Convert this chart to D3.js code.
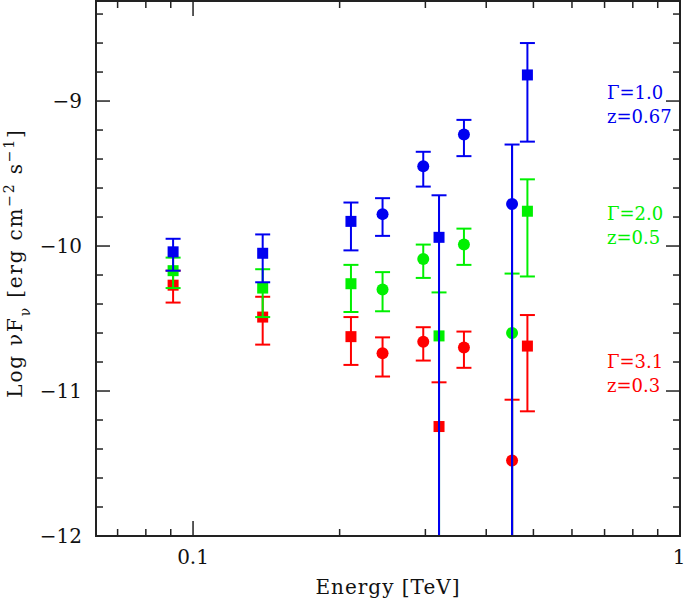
<!DOCTYPE html>
<html>
<head>
<meta charset="utf-8">
<script src="https://cdn.jsdelivr.net/npm/d3@7"></script>
<style>
  body { margin: 0; background: #fff; }
  text { font-family: "DejaVu Serif", serif; fill: #111; }
</style>
</head>
<body>
<script>
// energies of the bins (TeV) and the marker used at each
var energies = [0.091, 0.139, 0.211, 0.245, 0.297, 0.32, 0.36, 0.452, 0.486];
var shapes = ["sq", "sq", "sq", "ci", "ci", "sq", "ci", "ci", "sq"];

// Gamma=3.1, z=0.3
var redVal = [-10.27, -10.49, -10.625, -10.74, -10.66, -11.245, -10.70, -11.48, -10.69];
var redHi  = [-10.17, -10.35, -10.49, -10.63, -10.56, -10.94, -10.59, -11.06, -10.476];
var redLo  = [-10.39, -10.68, -10.82, -10.90, -10.79, -12.5, -10.84, -12.5, -11.14];

// Gamma=2.0, z=0.5
var greenVal = [-10.17, -10.29, -10.26, -10.30, -10.09, -10.62, -9.99, -10.60, -9.76];
var greenHi  = [-10.08, -10.16, -10.13, -10.18, -9.99, -10.32, -9.88, -10.19, -9.54];
var greenLo  = [-10.29, -10.49, -10.455, -10.45, -10.22, -12.5, -10.13, -12.5, -10.21];

// Gamma=1.0, z=0.67
var blueVal = [-10.04, -10.05, -9.83, -9.78, -9.45, -9.94, -9.23, -9.71, -8.82];
var blueHi  = [-9.95, -9.92, -9.70, -9.67, -9.35, -9.65, -9.13, -9.30, -8.60];
var blueLo  = [-10.17, -10.25, -10.03, -9.93, -9.59, -12.5, -9.38, -12.5, -9.28];

var xTicks = [0.1, 1];
var xMinor = [0.07, 0.08, 0.09, 0.2, 0.3, 0.4, 0.5, 0.6, 0.7, 0.8, 0.9];
var yTicks = [-12, -11, -10, -9];

var width = 684, height = 600;
var pL = 96, pR = 680, pT = 1, pB = 536;

var svg = d3.select("body").append("svg")
  .attr("width", width).attr("height", height);

var x = d3.scaleLog().domain([0.0632, 1]).range([pL, pR]);
var y = d3.scaleLinear().domain([-12, -8.31]).range([pB, pT]);

svg.append("clipPath").attr("id", "clip")
  .append("rect").attr("x", pL).attr("y", pT)
  .attr("width", pR - pL).attr("height", pB - pT);

var plot = svg.append("g").attr("clip-path", "url(#clip)");

function drawSeries(vals, his, los, colour) {
  var g = plot.append("g");
  for (var i = 0; i < vals.length; i++) {
    var cx = x(energies[i]);
    g.append("line").attr("x1", cx).attr("x2", cx)
      .attr("y1", y(his[i])).attr("y2", y(los[i]))
      .attr("stroke", colour).attr("stroke-width", 2);
    [his[i], los[i]].forEach(function(v) {
      if (v < -12) return;
      g.append("line").attr("x1", cx - 7.5).attr("x2", cx + 7.5)
        .attr("y1", y(v)).attr("y2", y(v))
        .attr("stroke", colour).attr("stroke-width", 2);
    });
    if (shapes[i] == "sq") {
      g.append("rect").attr("x", cx - 5.5).attr("y", y(vals[i]) - 5.5)
        .attr("width", 11).attr("height", 11).attr("fill", colour);
    } else {
      g.append("circle").attr("cx", cx).attr("cy", y(vals[i]))
        .attr("r", 6).attr("fill", colour);
    }
  }
  // long bars (lower end off the plot) go over their own markers
  for (var j = 0; j < vals.length; j++) {
    if (los[j] < -12) {
      var cx2 = x(energies[j]);
      g.append("line").attr("x1", cx2).attr("x2", cx2)
        .attr("y1", y(his[j])).attr("y2", y(los[j]))
        .attr("stroke", colour).attr("stroke-width", 2);
    }
  }
}

drawSeries(redVal, redHi, redLo, "#ff0000");
drawSeries(greenVal, greenHi, greenLo, "#00f000");
drawSeries(blueVal, blueHi, blueLo, "#0000f0");

// frame and ticks
var axisCol = "#222";
svg.append("rect").attr("x", pL).attr("y", pT)
  .attr("width", pR - pL).attr("height", pB - pT)
  .attr("fill", "none").attr("stroke", axisCol).attr("stroke-width", 2);

xMinor.forEach(function(v) {
  svg.append("line").attr("x1", x(v)).attr("x2", x(v)).attr("y1", pB).attr("y2", pB - 7)
    .attr("stroke", axisCol).attr("stroke-width", 1.5);
  svg.append("line").attr("x1", x(v)).attr("x2", x(v)).attr("y1", pT).attr("y2", pT + 7)
    .attr("stroke", axisCol).attr("stroke-width", 1.5);
});
xTicks.forEach(function(v) {
  svg.append("line").attr("x1", x(v)).attr("x2", x(v)).attr("y1", pB).attr("y2", pB - 15)
    .attr("stroke", axisCol).attr("stroke-width", 1.5);
  svg.append("line").attr("x1", x(v)).attr("x2", x(v)).attr("y1", pT).attr("y2", pT + 15)
    .attr("stroke", axisCol).attr("stroke-width", 1.5);
  svg.append("text").attr("x", v == 1 ? x(v) - 1 : x(v)).attr("y", 564)
    .attr("text-anchor", "middle").style("font-size", "20px")
    .text(v == 1 ? "1" : "0.1");
});

var yMinor = d3.range(-11.8, -8.3, 0.2).filter(function(v) {
  return Math.abs(v - Math.round(v)) > 0.05;
});
yMinor.forEach(function(v) {
  svg.append("line").attr("x1", pL).attr("x2", pL + 7).attr("y1", y(v)).attr("y2", y(v))
    .attr("stroke", axisCol).attr("stroke-width", 1.5);
  svg.append("line").attr("x1", pR).attr("x2", pR - 7).attr("y1", y(v)).attr("y2", y(v))
    .attr("stroke", axisCol).attr("stroke-width", 1.5);
});
yTicks.forEach(function(v) {
  svg.append("line").attr("x1", pL).attr("x2", pL + 14).attr("y1", y(v)).attr("y2", y(v))
    .attr("stroke", axisCol).attr("stroke-width", 1.5);
  svg.append("line").attr("x1", pR).attr("x2", pR - 14).attr("y1", y(v)).attr("y2", y(v))
    .attr("stroke", axisCol).attr("stroke-width", 1.5);
  svg.append("text").attr("x", 82).attr("y", y(v) + 7)
    .attr("text-anchor", "end").style("font-size", "20px")
    .text("\u2212" + Math.abs(v));
});

// axis titles
svg.append("text").attr("x", (pL + pR) / 2).attr("y", 594)
  .attr("text-anchor", "middle").style("font-size", "20px")
  .style("letter-spacing", "1px")
  .text("Energy [TeV]");

var yl = svg.append("text")
  .attr("transform", "translate(22,263) rotate(-90)")
  .attr("text-anchor", "middle").style("font-size", "20px")
  .style("letter-spacing", "1.8px");
yl.append("tspan").text("Log \u03BDF");
yl.append("tspan").attr("baseline-shift", "sub").style("font-size", "14px").text("\u03BD");
yl.append("tspan").text(" [erg cm");
yl.append("tspan").attr("baseline-shift", "super").style("font-size", "14px").text("\u22122");
yl.append("tspan").text(" s");
yl.append("tspan").attr("baseline-shift", "super").style("font-size", "14px").text("\u22121");
yl.append("tspan").text("]");

// series labels
var labels = [
  {l1: "\u0393=1.0", l2: "z=0.67", yy: 99, c: "#0000f0"},
  {l1: "\u0393=2.0", l2: "z=0.5", yy: 220, c: "#00f000"},
  {l1: "\u0393=3.1", l2: "z=0.3", yy: 368, c: "#ff0000"}
];
labels.forEach(function(d) {
  svg.append("text").attr("x", 607).attr("y", d.yy).style("font-size", "18px")
    .style("fill", d.c).text(d.l1);
  svg.append("text").attr("x", 607).attr("y", d.yy + 24).style("font-size", "18px")
    .style("fill", d.c).text(d.l2);
});
</script>
</body>
</html>
